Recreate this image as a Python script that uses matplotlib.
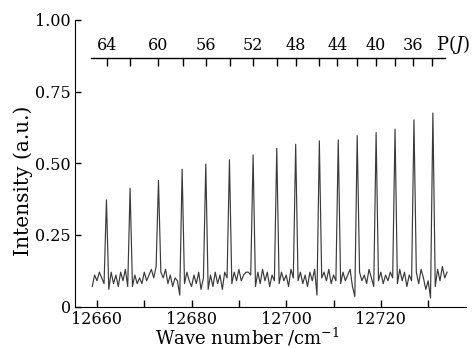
#!/usr/bin/env python3
"""
Espectro de absorción con la rama P marcada arriba
"""

import numpy as np
import matplotlib.pyplot as plt

plt.rcParams['font.family'] = ['DejaVu Serif']
plt.rcParams['mathtext.fontset'] = 'dejavuserif'

# Malla de muestreo del espectro (cm^-1), paso 0.5
numero_onda = np.arange(12659.0, 12734.01, 0.5)

# Intensidad, por tramos entre picos
intensidad = [
    0.07, 0.11, 0.09, 0.12, 0.10, 0.08,
    0.372,
    0.06, 0.12, 0.08, 0.11, 0.07, 0.12, 0.09, 0.13, 0.07,
    0.413,
    0.07, 0.11, 0.08, 0.10, 0.08, 0.12, 0.09, 0.11, 0.13, 0.10, 0.14,
    0.44,
    0.12, 0.10, 0.13, 0.08, 0.11, 0.07, 0.10, 0.09, 0.04,
    0.479,
    0.08, 0.12, 0.09, 0.07, 0.11, 0.08, 0.12, 0.06, 0.10,
    0.497,
    0.06, 0.11, 0.07, 0.12, 0.08, 0.11, 0.06, 0.12, 0.10,
    0.512,
    0.08, 0.12, 0.09, 0.13, 0.09, 0.11, 0.12, 0.12, 0.11,
    0.529,
    0.07, 0.12, 0.08, 0.13, 0.09, 0.12, 0.07, 0.11, 0.09,
    0.552,
    0.08, 0.12, 0.09, 0.11, 0.07, 0.13, 0.10,
    0.566,
    0.09, 0.12, 0.08, 0.11, 0.07, 0.12, 0.09, 0.13, 0.04,
    0.578,
    0.10, 0.12, 0.09, 0.13, 0.08, 0.11, 0.09,
    0.581,
    0.08, 0.12, 0.09, 0.11, 0.13, 0.07, 0.035,
    0.596,
    0.12, 0.09, 0.11, 0.08, 0.13, 0.10, 0.07,
    0.607,
    0.09, 0.12, 0.08, 0.11, 0.09, 0.12, 0.10,
    0.619,
    0.08, 0.13, 0.09, 0.12, 0.07, 0.11, 0.09,
    0.651,
    0.12, 0.08, 0.13, 0.10, 0.06, 0.09, 0.03,
    0.675,
    0.07, 0.13, 0.09, 0.14, 0.10, 0.12,
]

# Posiciones de las líneas P(J) (cm^-1)
J_valores = [64, 62, 60, 58, 56, 54, 52, 50, 48, 46, 44, 42, 40, 38, 36, 34]
J_posiciones = [12662.1, 12667.0, 12673.0, 12678.1, 12683.0, 12688.1,
                12692.9, 12698.0, 12702.0, 12706.9, 12710.8, 12714.9,
                12718.9, 12722.9, 12726.8, 12730.9]

x_ticks = [12660, 12680, 12700, 12720]
x_minor = [12670, 12690, 12710, 12730]
y_ticks = [0, 0.25, 0.50, 0.75, 1.00]
y_etiquetas = ['0', '0.25', '0.50', '0.75', '1.00']

fig = plt.figure(figsize=(4.76, 3.48), dpi=100)
ax = fig.add_axes([0.158, 0.119, 0.821, 0.824])

ax.plot(numero_onda, intensidad, color='#3a3a3a', linewidth=0.85)

ax.set_xlim(12655.4, 12738.0)
ax.set_ylim(0, 1.0)
ax.spines['top'].set_visible(False)
ax.spines['right'].set_visible(False)

ax.set_xticks(x_ticks)
ax.set_xticks(x_minor, minor=True)
ax.set_yticks(y_ticks)
ax.set_yticklabels(y_etiquetas)
ax.tick_params(axis='both', which='both', direction='in', labelsize=11.5)
ax.tick_params(axis='x', which='both', length=5, width=1, pad=3)
ax.tick_params(axis='y', length=4, width=1, pad=3)

ax.set_xlabel('Wave number /cm$^{-1}$', fontsize=13, labelpad=-1, x=0.44)
ax.set_ylabel('Intensity (a.u.)', fontsize=14.5, labelpad=2, y=0.44)

# Eje superior con las asignaciones P(J)
ax2 = ax.twiny()
ax2.set_xlim(ax.get_xlim())
for lado in ['bottom', 'left', 'right']:
    ax2.spines[lado].set_visible(False)
ax2.spines['top'].set_position(('axes', 0.868))
ax2.spines['top'].set_bounds(12658.8, 12733.5)
ax2.spines['top'].set_linewidth(1)
ax2.set_xticks(J_posiciones)
ax2.set_xticklabels([str(j) if j % 4 == 0 else '' for j in J_valores])
ax2.tick_params(axis='x', direction='in', length=6, width=1, pad=3,
                labelsize=11.5)

ax.text(0.922, 0.915, 'P($\\mathit{J}$)', transform=ax.transAxes,
        fontsize=13, ha='left', va='center')

plt.savefig('out.png', dpi=100)
